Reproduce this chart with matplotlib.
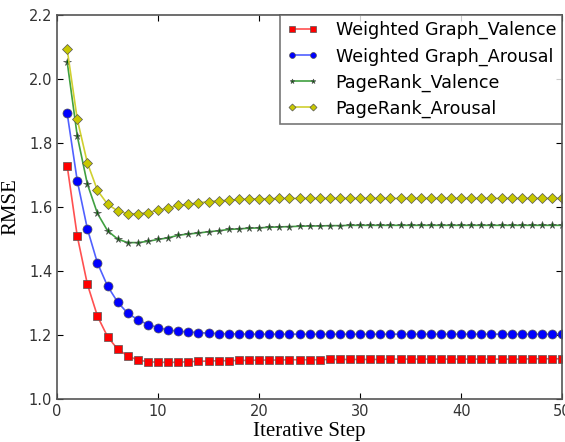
import matplotlib
matplotlib.use("Agg")
import matplotlib.pyplot as plt
import numpy as np

steps = np.arange(1, 51)

wg_valence = [1.729, 1.509, 1.359, 1.259, 1.195, 1.156, 1.135, 1.122, 1.117, 1.115,
              1.115, 1.115, 1.117, 1.118, 1.119, 1.120, 1.120, 1.121, 1.121, 1.122,
              1.122, 1.122, 1.123, 1.123, 1.123, 1.123, 1.124, 1.124, 1.124, 1.124,
              1.124, 1.124, 1.125, 1.125, 1.125, 1.125, 1.125, 1.125, 1.125, 1.125,
              1.125, 1.125, 1.125, 1.125, 1.125, 1.125, 1.126, 1.126, 1.126, 1.126]
wg_arousal = [1.893, 1.682, 1.532, 1.425, 1.353, 1.303, 1.268, 1.248, 1.233, 1.223,
              1.216, 1.212, 1.210, 1.208, 1.206, 1.205, 1.204, 1.204, 1.203, 1.203,
              1.203, 1.203, 1.203, 1.203, 1.203, 1.203, 1.203, 1.203, 1.203, 1.203,
              1.203, 1.203, 1.203, 1.203, 1.203, 1.203, 1.203, 1.203, 1.203, 1.203,
              1.203, 1.203, 1.203, 1.203, 1.203, 1.203, 1.203, 1.203, 1.203, 1.203]
pr_valence = [2.054, 1.822, 1.672, 1.580, 1.526, 1.500, 1.489, 1.489, 1.493, 1.499,
              1.504, 1.512, 1.516, 1.519, 1.523, 1.526, 1.530, 1.532, 1.534, 1.535,
              1.537, 1.538, 1.539, 1.540, 1.541, 1.541, 1.542, 1.542, 1.543, 1.543,
              1.543, 1.543, 1.543, 1.543, 1.543, 1.543, 1.543, 1.543, 1.543, 1.543,
              1.543, 1.543, 1.543, 1.543, 1.543, 1.543, 1.543, 1.543, 1.543, 1.543]
pr_arousal = [2.093, 1.874, 1.738, 1.652, 1.609, 1.588, 1.579, 1.579, 1.583, 1.590,
              1.597, 1.605, 1.609, 1.613, 1.617, 1.620, 1.621, 1.624, 1.625, 1.626,
              1.626, 1.627, 1.627, 1.627, 1.627, 1.627, 1.627, 1.627, 1.627, 1.627,
              1.627, 1.627, 1.627, 1.627, 1.627, 1.627, 1.627, 1.627, 1.627, 1.627,
              1.627, 1.627, 1.627, 1.627, 1.627, 1.627, 1.627, 1.627, 1.627, 1.627]

fig = plt.figure(figsize=(5.65, 4.42), dpi=100)
ax = fig.add_axes([0.101, 0.097, 0.894, 0.869])

style = dict(markeredgecolor="#555555", markeredgewidth=0.5, linewidth=1.2)
ax.plot(steps, wg_valence, color="#ff5050", marker="s", markersize=6,
        markerfacecolor="red", label="Weighted Graph_Valence", **style)
ax.plot(steps, wg_arousal, color="#5060ff", marker="o", markersize=6.5,
        markerfacecolor="blue", label="Weighted Graph_Arousal", **style)
ax.plot(steps, pr_valence, color="#40a040", marker="*", markersize=5.5,
        markerfacecolor="#006400", label="PageRank_Valence", **style)
ax.plot(steps, pr_arousal, color="#d0d030", marker="D", markersize=5.5,
        markerfacecolor="#c8c800", label="PageRank_Arousal", **style)

ax.set_xlim(0, 50)
ax.set_ylim(1.0, 2.2)
ax.set_xticks(np.arange(0, 51, 10))
ax.set_yticks(np.arange(1.0, 2.21, 0.2))
ax.tick_params(direction="in", top=True, right=True, labelsize=10.5,
               labelcolor="#333333", length=4)
for s in ax.spines.values():
    s.set_color("#555555")
    s.set_linewidth(1.2)

ax.set_xlabel("Iterative Step", family="Liberation Serif", fontsize=15, labelpad=2)
ax.set_ylabel("RMSE", family="Liberation Serif", fontsize=15, labelpad=6)

leg = ax.legend(loc="upper right", borderaxespad=0, fontsize=12.6, numpoints=2,
                handlelength=1.8, fancybox=False, labelspacing=0.45,
                borderpad=0.35, markerscale=0.65, handletextpad=1.0)
leg.get_frame().set_edgecolor("#555555")
leg.get_frame().set_linewidth(1.2)

plt.savefig("out.png", dpi=100)
